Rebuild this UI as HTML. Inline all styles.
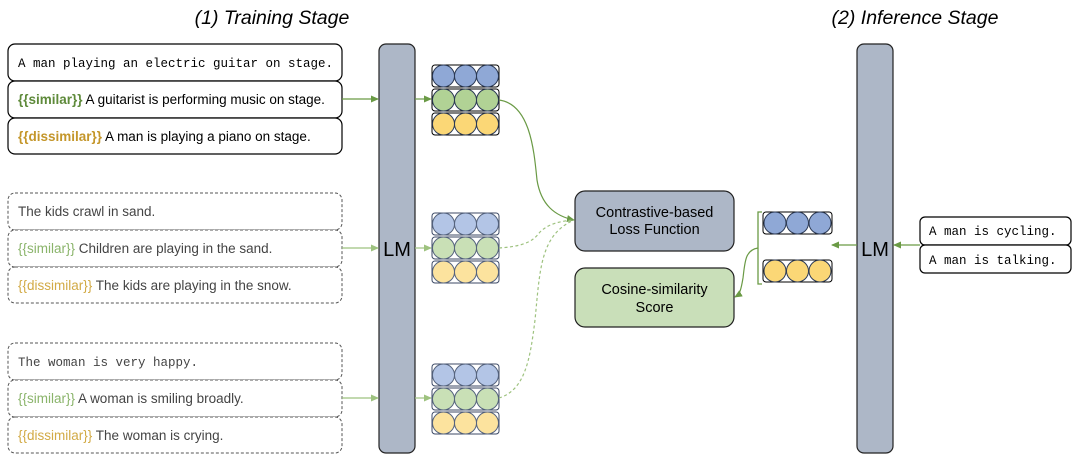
<!DOCTYPE html>
<html><head><meta charset="utf-8"><style>
html,body{margin:0;padding:0;background:#fff;}
svg{display:block;}
.s{font-family:"Liberation Sans",sans-serif;font-size:13.5px;fill:#000;}
.m{font-family:"Liberation Mono",monospace;font-size:12.5px;fill:#000;}
</style></head><body>
<svg width="1081" height="462" viewBox="0 0 1081 462" xmlns="http://www.w3.org/2000/svg">
<defs>
<marker id="a" markerWidth="8" markerHeight="8" refX="7" refY="4" orient="auto" markerUnits="userSpaceOnUse"><path d="M0,0.5 L8,4 L0,7.5z" fill="#6a9a45"/></marker>
<marker id="b" markerWidth="8" markerHeight="8" refX="7" refY="4" orient="auto" markerUnits="userSpaceOnUse"><path d="M0,0.5 L8,4 L0,7.5z" fill="#9ec27f"/></marker>
</defs>
<text x="272" y="24" text-anchor="middle" font-family="Liberation Sans,sans-serif" font-style="italic" font-size="19.5">(1) Training Stage</text>
<text x="915" y="24" text-anchor="middle" font-family="Liberation Sans,sans-serif" font-style="italic" font-size="19.5">(2) Inference Stage</text>

<g fill="#fff" stroke="#000" stroke-width="1.2">
<rect x="8" y="44" width="334" height="37" rx="7"/>
<rect x="8" y="81" width="334" height="37" rx="7"/>
<rect x="8" y="118" width="334" height="36" rx="7"/>
</g>
<text class="m" x="18" y="67">A man playing an electric guitar on stage.</text>
<text class="s" x="18" y="104"><tspan fill="#5e8a3a" font-weight="bold">{{similar}}</tspan> A guitarist is performing music on stage.</text>
<text class="s" x="18" y="141"><tspan fill="#c4962a" font-weight="bold">{{dissimilar}}</tspan> A man is playing a piano on stage.</text>

<g fill="#fff" stroke="#555" stroke-width="1" stroke-dasharray="3,2">
<rect x="8" y="193" width="334" height="37" rx="7"/>
<rect x="8" y="230" width="334" height="37" rx="7"/>
<rect x="8" y="267" width="334" height="36" rx="7"/>
<rect x="8" y="343" width="334" height="37" rx="7"/>
<rect x="8" y="380" width="334" height="37" rx="7"/>
<rect x="8" y="417" width="334" height="36" rx="7"/>
</g>
<g class="s" style="fill:#444">
<text x="18" y="216">The kids crawl in sand.</text>
<text x="18" y="253"><tspan fill="#8ab46a">{{similar}}</tspan> Children are playing in the sand.</text>
<text x="18" y="290"><tspan fill="#d2aa45">{{dissimilar}}</tspan> The kids are playing in the snow.</text>
<text x="18" y="403"><tspan fill="#8ab46a">{{similar}}</tspan> A woman is smiling broadly.</text>
<text x="18" y="440"><tspan fill="#d2aa45">{{dissimilar}}</tspan> The woman is crying.</text>
</g>
<text class="m" x="18" y="366" style="fill:#444">The woman is very happy.</text>

<rect x="379" y="44" width="36" height="409" rx="7" fill="#adb7c7" stroke="#222" stroke-width="1.2"/>
<text x="397" y="256" text-anchor="middle" font-family="Liberation Sans,sans-serif" font-size="20">LM</text>
<rect x="857" y="44" width="36" height="409" rx="7" fill="#adb7c7" stroke="#222" stroke-width="1.2"/>
<text x="875" y="256" text-anchor="middle" font-family="Liberation Sans,sans-serif" font-size="20">LM</text>

<g stroke="#6a9a45" stroke-width="1.2" fill="none">
<line x1="342" y1="99" x2="378" y2="99" marker-end="url(#a)"/>
<line x1="415" y1="99" x2="431" y2="99" marker-end="url(#a)"/>
<line x1="920" y1="245" x2="894" y2="245" marker-end="url(#a)"/>
<line x1="857" y1="245" x2="832" y2="245" marker-end="url(#a)"/>
</g>
<g stroke="#9ec27f" stroke-width="1.2" fill="none">
<line x1="342" y1="248" x2="378" y2="248" marker-end="url(#b)"/>
<line x1="415" y1="248" x2="431" y2="248" marker-end="url(#b)"/>
<line x1="342" y1="398" x2="378" y2="398" marker-end="url(#b)"/>
<line x1="415" y1="398" x2="431" y2="398" marker-end="url(#b)"/>
</g>

<g>
<g stroke="#000" stroke-width="1"><rect x="432" y="65" width="67" height="22" rx="3" fill="#fff"/><rect x="432" y="89" width="67" height="22" rx="3" fill="#fff"/><rect x="432" y="113" width="67" height="22" rx="3" fill="#fff"/></g>
<g stroke="#2c3a55" stroke-width="1">
<circle cx="443.5" cy="76" r="11" fill="#8fa8d6"/><circle cx="465.5" cy="76" r="11" fill="#8fa8d6"/><circle cx="487.5" cy="76" r="11" fill="#8fa8d6"/>
<circle cx="443.5" cy="100" r="11" fill="#b1d295"/><circle cx="465.5" cy="100" r="11" fill="#b1d295"/><circle cx="487.5" cy="100" r="11" fill="#b1d295"/>
<circle cx="443.5" cy="124" r="11" fill="#fbd776"/><circle cx="465.5" cy="124" r="11" fill="#fbd776"/><circle cx="487.5" cy="124" r="11" fill="#fbd776"/>
</g></g>
<g transform="translate(0,148)">
<g stroke="#3c4a66" stroke-width="1"><rect x="432" y="65" width="67" height="22" rx="3" fill="#fff"/><rect x="432" y="89" width="67" height="22" rx="3" fill="#fff"/><rect x="432" y="113" width="67" height="22" rx="3" fill="#fff"/></g>
<g stroke="#56647e" stroke-width="1">
<circle cx="443.5" cy="76" r="11" fill="#b3c5e6"/><circle cx="465.5" cy="76" r="11" fill="#b3c5e6"/><circle cx="487.5" cy="76" r="11" fill="#b3c5e6"/>
<circle cx="443.5" cy="100" r="11" fill="#c9e0b6"/><circle cx="465.5" cy="100" r="11" fill="#c9e0b6"/><circle cx="487.5" cy="100" r="11" fill="#c9e0b6"/>
<circle cx="443.5" cy="124" r="11" fill="#fce39e"/><circle cx="465.5" cy="124" r="11" fill="#fce39e"/><circle cx="487.5" cy="124" r="11" fill="#fce39e"/>
</g></g>
<g transform="translate(0,299)">
<g stroke="#3c4a66" stroke-width="1"><rect x="432" y="65" width="67" height="22" rx="3" fill="#fff"/><rect x="432" y="89" width="67" height="22" rx="3" fill="#fff"/><rect x="432" y="113" width="67" height="22" rx="3" fill="#fff"/></g>
<g stroke="#56647e" stroke-width="1">
<circle cx="443.5" cy="76" r="11" fill="#b3c5e6"/><circle cx="465.5" cy="76" r="11" fill="#b3c5e6"/><circle cx="487.5" cy="76" r="11" fill="#b3c5e6"/>
<circle cx="443.5" cy="100" r="11" fill="#c9e0b6"/><circle cx="465.5" cy="100" r="11" fill="#c9e0b6"/><circle cx="487.5" cy="100" r="11" fill="#c9e0b6"/>
<circle cx="443.5" cy="124" r="11" fill="#fce39e"/><circle cx="465.5" cy="124" r="11" fill="#fce39e"/><circle cx="487.5" cy="124" r="11" fill="#fce39e"/>
</g></g>

<g stroke="#000" stroke-width="1"><rect x="763" y="212" width="69" height="22" rx="3" fill="#fff"/><rect x="763" y="260" width="69" height="22" rx="3" fill="#fff"/></g>
<g stroke="#2c3a55" stroke-width="1">
<circle cx="775" cy="223" r="11" fill="#8fa8d6"/><circle cx="797.5" cy="223" r="11" fill="#8fa8d6"/><circle cx="820" cy="223" r="11" fill="#8fa8d6"/>
<circle cx="775" cy="271" r="11" fill="#fbd776"/><circle cx="797.5" cy="271" r="11" fill="#fbd776"/><circle cx="820" cy="271" r="11" fill="#fbd776"/>
</g>
<path d="M762,212 H758 V284 H762" stroke="#6a9a45" stroke-width="1.3" fill="none"/>

<rect x="575" y="191" width="159" height="60" rx="10" fill="#adb7c7" stroke="#222" stroke-width="1.2"/>
<text x="654.5" y="217" text-anchor="middle" font-family="Liberation Sans,sans-serif" font-size="14.5">Contrastive-based</text>
<text x="654.5" y="234" text-anchor="middle" font-family="Liberation Sans,sans-serif" font-size="14.5">Loss Function</text>
<rect x="575" y="268" width="159" height="59" rx="10" fill="#c9dfb9" stroke="#222" stroke-width="1.2"/>
<text x="654.5" y="294" text-anchor="middle" font-family="Liberation Sans,sans-serif" font-size="14.5">Cosine-similarity</text>
<text x="654.5" y="312" text-anchor="middle" font-family="Liberation Sans,sans-serif" font-size="14.5">Score</text>

<path d="M499,100 C530,104 534,150 537,180 C541,205 555,216 574,220" stroke="#6a9a45" stroke-width="1.2" fill="none" marker-end="url(#a)"/>
<path d="M499,248 C530,246 535,238 540,232 C548,224 560,221 574,220" stroke="#9ec27f" stroke-width="1.2" fill="none" stroke-dasharray="3,2.5"/>
<path d="M499,398 C525,390 530,360 535,320 C540,270 540,235 574,220" stroke="#9ec27f" stroke-width="1.2" fill="none" stroke-dasharray="3,2.5"/>
<path d="M758,248 C745,250 745,262 743,278 C741,290 740,294 735,297" stroke="#6a9a45" stroke-width="1.2" fill="none" marker-end="url(#a)"/>

<g fill="#fff" stroke="#000" stroke-width="1.2">
<rect x="920" y="217" width="151" height="28" rx="5"/>
<rect x="920" y="245" width="151" height="28" rx="5"/>
</g>
<text class="m" x="929" y="235">A man is cycling.</text>
<text class="m" x="929" y="264">A man is talking.</text>
</svg>
</body></html>
